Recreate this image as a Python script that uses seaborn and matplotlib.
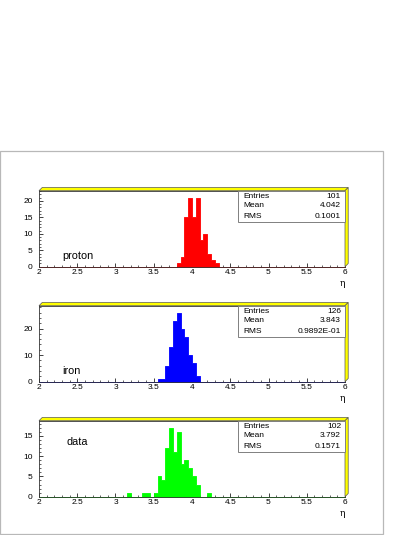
import numpy as np
import pandas as pd
import matplotlib
matplotlib.use("Agg")
import matplotlib.pyplot as plt
from matplotlib.patches import Polygon, Rectangle
import seaborn as sns

# ---------------- data ----------------
bin_width = 0.05
x_range = [2.0, 6.0]

labels = ["proton", "iron", "data"]
colors = ["#ff0000", "#0000ff", "#00ff00"]

proton_start = 3.80
proton_counts = [1, 3, 15, 21, 15, 21, 8, 10, 4, 2, 1]

iron_start = 3.55
iron_counts = [1, 1, 6, 13, 23, 26, 20, 17, 10, 7, 2]

data_start = 3.15
data_counts = [1, 0, 0, 0, 1, 1, 0, 1, 5, 4, 12, 17, 11, 16, 8, 9, 7, 5, 3, 0, 0, 1]

stat_entries = ["101", "126", "102"]
stat_means = ["4.042", "3.843", "3.792"]
stat_rms = ["0.1001", "0.9892E-01", "0.1571"]

x_ticks = [2, 2.5, 3, 3.5, 4, 4.5, 5, 5.5, 6]
x_tick_labels = ["2", "2.5", "3", "3.5", "4", "4.5", "5", "5.5", "6"]
y_major = [5, 10, 5]
y_minor = [1, 2, 1]

# ---------------- style ----------------
sns.set_style("white")
plt.rcParams["font.family"] = ["Liberation Sans", "DejaVu Sans"]

W, H = 414, 535
fig = plt.figure(figsize=(W / 100, H / 100), dpi=100)

# outer pad frame
fig.patches.append(Rectangle((0.5 / W, 1 - 534 / H), 382.5 / W, (534 - 151) / H,
                             transform=fig.transFigure, fill=False,
                             edgecolor="#b8b8b8", linewidth=0.9))

ax_left, ax_w, ax_h = 39, 306, 76
ax_bottoms = [266.7, 381.7, 496.7]
text_pos = [(0.075, 0.14), (0.075, 0.14), (0.09, 0.72)]

series = [(proton_start, proton_counts), (iron_start, iron_counts), (data_start, data_counts)]

for i, (start, counts) in enumerate(series):
    b = ax_bottoms[i]
    ax = fig.add_axes([ax_left / W, (H - b) / H, ax_w / W, ax_h / H])
    centers = start + bin_width * (np.arange(len(counts)) + 0.5)
    df = pd.DataFrame({"eta": centers, "n": np.asarray(counts, dtype=float)})
    sns.histplot(data=df, x="eta", weights="n", binwidth=bin_width,
                 binrange=tuple(x_range), element="step",
                 fill=True, color=colors[i], alpha=1.0, linewidth=0.6,
                 edgecolor=colors[i], ax=ax)
    ymax = 1.1 * max(counts)
    ax.set_xlim(*x_range)
    ax.set_ylim(0, ymax)
    ax.set_xlabel("")
    ax.set_ylabel("")
    ax.set_facecolor("white")

    ax.set_xticks(x_ticks)
    ax.set_xticklabels(x_tick_labels)
    ax.xaxis.set_minor_locator(matplotlib.ticker.MultipleLocator(0.1))
    ax.yaxis.set_major_locator(matplotlib.ticker.MultipleLocator(y_major[i]))
    ax.yaxis.set_minor_locator(matplotlib.ticker.MultipleLocator(y_minor[i]))
    ax.tick_params(axis="both", which="both", direction="in", colors="#222222",
                   labelsize=6, bottom=True, left=True, top=False, right=False)
    ax.tick_params(axis="x", which="major", length=3.2, width=0.6, pad=2)
    ax.tick_params(axis="x", which="minor", length=1.6, width=0.5)
    ax.tick_params(axis="y", which="major", length=3.2, width=0.6, pad=4.5)
    ax.tick_params(axis="y", which="minor", length=1.6, width=0.5)
    for lab in ax.get_xticklabels() + ax.get_yticklabels():
        lab.set_color("black")
    for s in ["left", "bottom", "top", "right"]:
        ax.spines[s].set_visible(True)
        ax.spines[s].set_linewidth(0.6)
        ax.spines[s].set_color("#333333")

    # 3D yellow frame bevel
    dx, dy = 3.2 / ax_w, 3.2 / ax_h
    top = Polygon([(0, 1), (dx, 1 + dy), (1 + dx, 1 + dy), (1, 1)], closed=True,
                  transform=ax.transAxes, clip_on=False, facecolor="#ffff00",
                  edgecolor="#555555", linewidth=0.5, zorder=5)
    right = Polygon([(1, 1), (1 + dx, 1 + dy), (1 + dx, dy), (1, 0)], closed=True,
                    transform=ax.transAxes, clip_on=False, facecolor="#ffff00",
                    edgecolor="#555555", linewidth=0.5, zorder=5)
    ax.add_patch(top)
    ax.add_patch(right)

    # stats box
    bx0, by0 = 0.649, 0.59
    ax.add_patch(Rectangle((bx0, by0), 1 - bx0, 1 - by0, transform=ax.transAxes,
                           facecolor="white", edgecolor="#808080", linewidth=0.7,
                           zorder=6, clip_on=False))
    rows = [("Entries", stat_entries[i]), ("Mean", stat_means[i]), ("RMS", stat_rms[i])]
    row_y = [0.93, 0.80, 0.665]
    for (k, v), yy in zip(rows, row_y):
        ax.text(0.668, yy, k, transform=ax.transAxes, fontsize=6, ha="left",
                va="center", zorder=7, color="black")
        ax.text(0.987, yy, v, transform=ax.transAxes, fontsize=6, ha="right",
                va="center", zorder=7, color="black")

    ax.text(text_pos[i][0], text_pos[i][1], labels[i], transform=ax.transAxes,
            fontsize=7.8, ha="left", va="center", color="black")
    ax.text(0.99, -0.22, "η", transform=ax.transAxes, fontsize=6.5,
            ha="center", va="center", color="black",
            family=["DejaVu Serif"])

fig.savefig("out.png", dpi=100)
